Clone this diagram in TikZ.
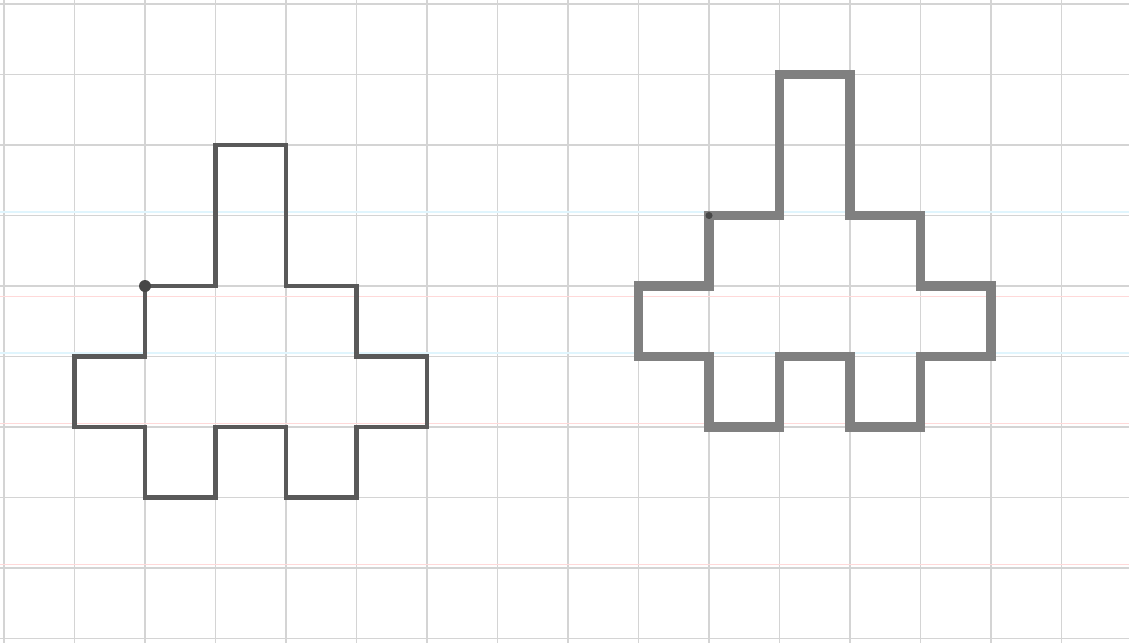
\documentclass[tikz,border=0pt]{standalone}
\begin{document}
\begin{tikzpicture}[x=1cm,y=-1cm,
  gridline/.style={draw=black!17, line width=0.45pt},
  thinshape/.style={draw=black!65, line width=1.7pt, line join=miter},
  thickshape/.style={draw=black!50, line width=3.9pt, line join=miter},
  startdot/.style={fill=black!72}]
\useasboundingbox[fill=white] (-0.057,-0.057) rectangle (15.957,9.064);
% grid
\foreach \i in {0,...,16} \draw[gridline] (\i,-0.057) -- (\i,9.064);
\foreach \j in {0,...,9} \draw[gridline] (-0.057,\j) -- (15.957,\j);
% faint coloured ruling of the paper
\draw[red!15, line width=0.5pt] (-0.057,4.15) -- (15.957,4.15);
\draw[red!15, line width=0.5pt] (-0.057,5.95) -- (15.957,5.95);
\draw[red!15, line width=0.5pt] (-0.057,7.95) -- (15.957,7.95);
\draw[cyan!12, line width=0.5pt] (-0.057,4.95) -- (15.957,4.95);
\draw[cyan!12, line width=0.5pt] (-0.057,2.95) -- (15.957,2.95);
% left figure
\draw[thinshape] (2,4) -- (3,4) -- (3,2) -- (4,2) -- (4,4) -- (5,4) -- (5,5) -- (6,5)
  -- (6,6) -- (5,6) -- (5,7) -- (4,7) -- (4,6) -- (3,6) -- (3,7) -- (2,7) -- (2,6)
  -- (1,6) -- (1,5) -- (2,5) -- cycle;
\fill[startdot] (2,4) circle (0.085);
% right figure
\draw[thickshape] (10,3) -- (11,3) -- (11,1) -- (12,1) -- (12,3) -- (13,3) -- (13,4) -- (14,4)
  -- (14,5) -- (13,5) -- (13,6) -- (12,6) -- (12,5) -- (11,5) -- (11,6) -- (10,6) -- (10,5)
  -- (9,5) -- (9,4) -- (10,4) -- cycle;
\fill[startdot] (10,3) circle (0.05);
\end{tikzpicture}
\end{document}
